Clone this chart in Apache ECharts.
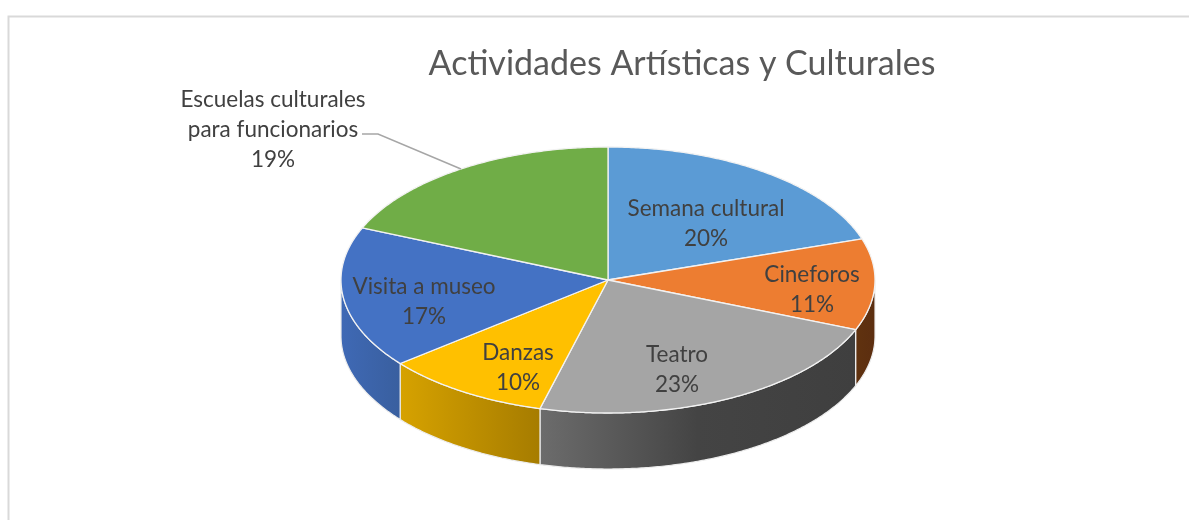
<!DOCTYPE html>
<html>
<head>
<meta charset="utf-8">
<style>html,body{margin:0;padding:0;background:#fff}#c{width:1189px;height:520px}</style>
<script src="https://cdn.jsdelivr.net/npm/echarts@6/dist/echarts.min.js"></script>
</head>
<body>
<div id="c"></div>
<script>
// --- data ---
var categories = ['Semana cultural', 'Cineforos', 'Teatro', 'Danzas', 'Visita a museo', 'Escuelas culturales\npara funcionarios'];
var values = [20, 11.1, 23, 10.1, 17.2, 18.6];
var chartTitle = 'Actividades Artísticas y Culturales';

// --- style / layout, kept apart from the data ---
var topColors = ['#5B9BD5', '#ED7D31', '#A5A5A5', '#FFC000', '#4472C4', '#70AD47'];
var wallStops = [
  ['#3F6E9E', '#3F6E9E'],
  ['#60320F', '#5C2E10'],
  ['#6C6C6C', '#444444', '#3F3F3F'],
  ['#D6A200', '#A67C00'],
  ['#3F69B5', '#395F9F'],
  ['#4F7A32', '#4F7A32']
];
var labelAnchors = [[706, 224], [812, 290], [677, 370], [518, 368], [424, 302], [273, 130]];
var leader = [[362, 134], [378, 134], [461, 169]];
var CX = 608, CY = 280, RX = 267, RY = 133, DEPTH = 56;
var LABEL_FONT = 'Lato, Carlito, "Open Sans", sans-serif';

var total = values.reduce(function (a, b) { return a + b; }, 0);
function span(i) {
  var before = 0;
  for (var k = 0; k < i; k++) before += values[k];
  return [before / total * 360, (before + values[i]) / total * 360];
}
function pt(deg, dy) {
  var r = deg * Math.PI / 180;
  return [CX + RX * Math.sin(r), CY - RY * Math.cos(r) + (dy || 0)];
}
function arc(a, b, dy) {
  var pts = [], n = Math.max(2, Math.ceil(Math.abs(b - a) * 2));
  for (var j = 0; j <= n; j++) pts.push(pt(a + (b - a) * j / n, dy));
  return pts;
}

function renderWall(params) {
  var s = span(params.dataIndex);
  var a = Math.max(s[0], 90), b = Math.min(s[1], 270);
  if (b <= a) return { type: 'group', children: [] };
  var front = arc(a, b, 0), back = arc(b, a, DEPTH);
  var xs = front.map(function (p) { return p[0]; });
  var minX = Math.min.apply(null, xs), maxX = Math.max.apply(null, xs);
  var cols = wallStops[params.dataIndex];
  return {
    type: 'polygon',
    shape: { points: front.concat(back) },
    style: {
      stroke: '#ECECEC',
      lineWidth: 1.2,
      fill: {
        type: 'linear', global: true, x: minX, y: 0, x2: maxX, y2: 0,
        colorStops: cols.map(function (c, i) { return { offset: i / (cols.length - 1), color: c }; })
      }
    }
  };
}
function renderTop(params) {
  var s = span(params.dataIndex);
  return {
    type: 'polygon',
    shape: { points: [[CX, CY]].concat(arc(s[0], s[1], 0)) },
    style: { fill: topColors[params.dataIndex], stroke: '#F2F2F2', lineWidth: 1.3 }
  };
}
function renderLabel(params, api) {
  var i = params.dataIndex;
  var pct = Math.round(api.value(0) / total * 100) + '%';
  return {
    type: 'text',
    x: labelAnchors[i][0], y: labelAnchors[i][1],
    style: {
      text: categories[i] + '\n' + pct,
      fill: '#404040',
      font: '22.5px ' + LABEL_FONT,
      lineHeight: 30,
      align: 'center',
      verticalAlign: 'middle'
    }
  };
}
function customSeries(fn, z) {
  return { type: 'custom', coordinateSystem: 'none', silent: true, animation: false, clip: false, z: z, renderItem: fn, data: values.map(function (v) { return [v]; }) };
}

var chart = echarts.init(document.getElementById('c'), null, { renderer: 'canvas' });
chart.setOption({
  backgroundColor: '#ffffff',
  animation: false,
  title: {
    text: chartTitle,
    left: 677, top: 42,
    textAlign: 'center',
    textStyle: { color: '#595959', fontSize: 34, fontWeight: 'normal', fontFamily: LABEL_FONT }
  },
  graphic: [
    { type: 'polyline', silent: true, z: 1, shape: { points: [[1189, 16.5], [8.5, 16.5], [8.5, 520]] }, style: { stroke: '#D9D9D9', lineWidth: 2, fill: null } },
    { type: 'polyline', silent: true, z: 5, shape: { points: leader }, style: { stroke: '#A6A6A6', lineWidth: 1.5, fill: null } }
  ],
  series: [
    customSeries(renderWall, 2),
    customSeries(renderTop, 3),
    customSeries(renderLabel, 4)
  ]
});
</script>
</body>
</html>
